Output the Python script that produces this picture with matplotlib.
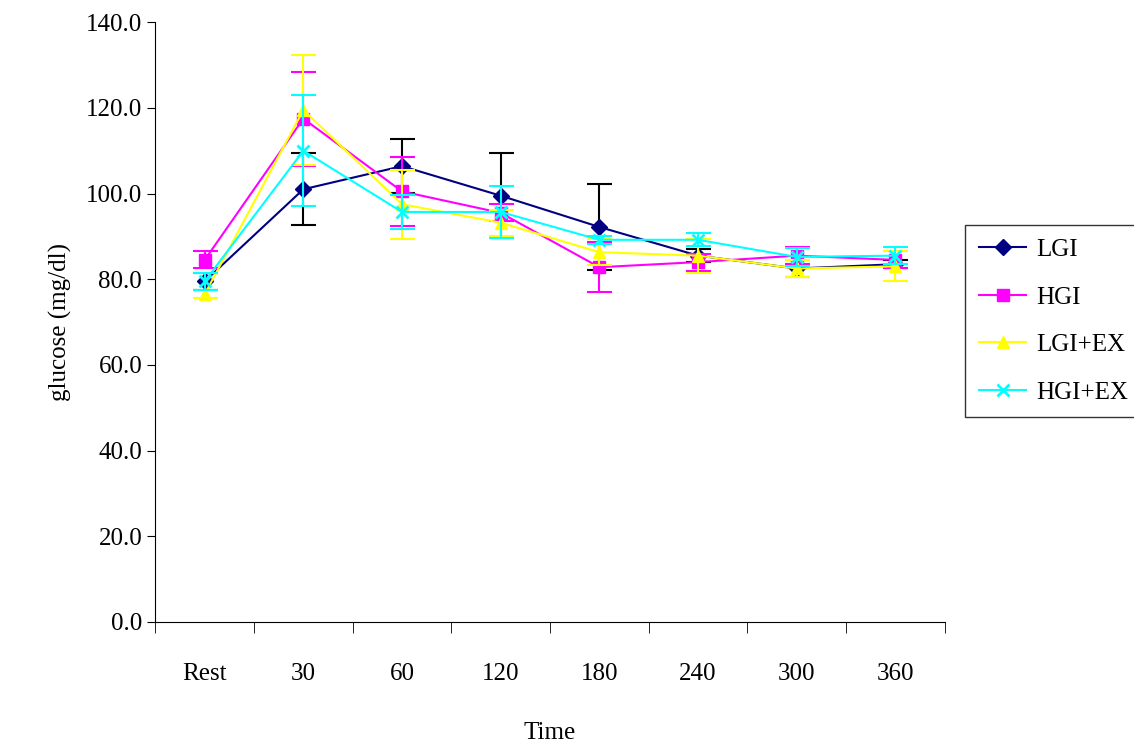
import numpy as np
import matplotlib
matplotlib.use("Agg")
import matplotlib.pyplot as plt

plt.rcParams['font.family'] = ['Liberation Serif', 'DejaVu Serif']

labels = ["Rest", "30", "60", "120", "180", "240", "300", "360"]
lgi = [79.5, 101.0, 106.4, 99.5, 92.2, 85.5, 82.5, 83.5]
lgi_err = [2.0, 8.4, 6.3, 9.9, 10.1, 1.5, 2.0, 1.0]
hgi = [84.5, 117.5, 100.5, 95.5, 82.8, 84.0, 85.5, 84.5]
hgi_err = [2.0, 11.0, 8.0, 2.0, 5.8, 2.0, 2.0, 2.0]
lgi_ex = [76.5, 119.5, 97.5, 93.2, 86.3, 85.5, 82.5, 83.0]
lgi_ex_err = [1.0, 12.8, 8.0, 3.0, 3.0, 4.0, 2.0, 3.5]
hgi_ex = [79.5, 110.0, 95.7, 95.7, 89.2, 89.2, 85.2, 85.5]
hgi_ex_err = [2.0, 13.0, 4.0, 6.0, 1.0, 1.5, 2.0, 2.0]

x = np.arange(len(labels))
fig = plt.figure(figsize=(11.34, 7.42), dpi=100)
ax = fig.add_axes([0.137, 0.162, 0.696, 0.808])

series = [
    ("LGI", lgi, lgi_err, "#000080", "black", "D", 8),
    ("HGI", hgi, hgi_err, "#FF00FF", "#FF00FF", "s", 8),
    ("LGI+EX", lgi_ex, lgi_ex_err, "#FFFF00", "#FFFF00", "^", 9),
    ("HGI+EX", hgi_ex, hgi_ex_err, "#00FFFF", "#00FFFF", "x", 9),
]
for name, y, e, c, ec, m, ms in series:
    ax.errorbar(x, y, yerr=e, fmt="none", ecolor=ec, elinewidth=1.5, capsize=9, capthick=1.5)
    ax.plot(x, y, color=c, marker=m, markersize=ms, lw=1.5, label=name,
            markeredgewidth=2 if m == "x" else 1)

ax.set_xlim(-0.5, len(labels) - 0.5)
ax.set_ylim(0, 140)
ax.set_yticks(np.arange(0, 141, 20))
ax.set_yticklabels([f"{v:.1f}" for v in np.arange(0, 141, 20)], fontsize=18)
ax.set_xticks(x)
ax.set_xticklabels(labels, fontsize=18)
ax.tick_params(axis="x", length=0, pad=30)
ax.set_xticks(np.arange(-0.5, len(labels)), minor=True)
ax.tick_params(axis="x", which="minor", length=8, direction="out")
ax.tick_params(axis="y", length=6, direction="out")
ax.spines["top"].set_visible(False)
ax.spines["right"].set_visible(False)
ax.set_ylabel("glucose (mg/dl)", fontsize=18, labelpad=10)
ax.set_xlabel("Time", fontsize=18, labelpad=26)

leg = fig.legend(loc="upper left", bbox_to_anchor=(0.851, 0.697), fontsize=18,
                 frameon=True, fancybox=False, edgecolor="black", labelspacing=1.0,
                 handlelength=1.9, handletextpad=0.4, borderpad=0.55, borderaxespad=0)
leg.get_frame().set_linewidth(1.0)

fig.savefig("out.png", dpi=100)
